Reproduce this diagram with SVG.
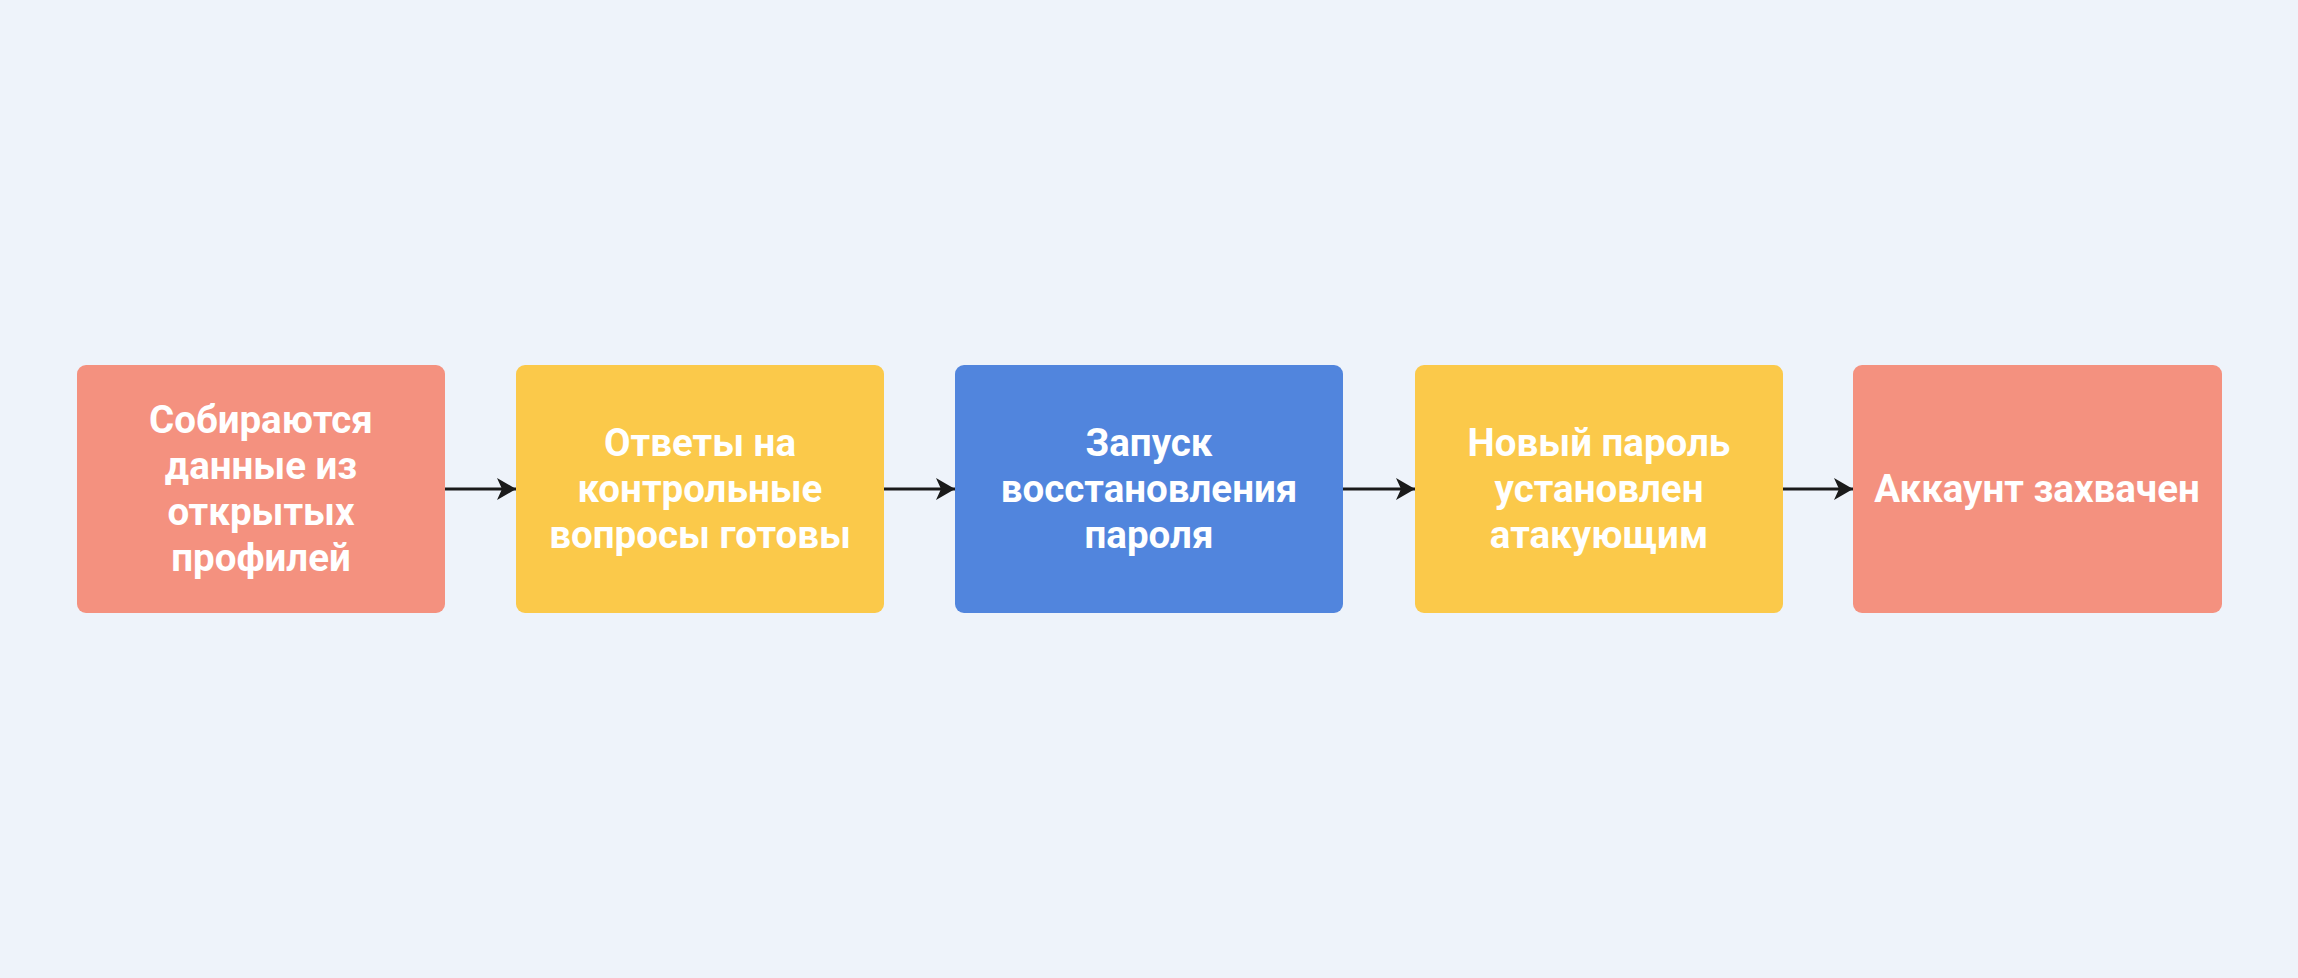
<svg xmlns="http://www.w3.org/2000/svg" width="2298" height="978" viewBox="0 0 2298 978">
<defs>
<marker id="ah" markerWidth="22" markerHeight="22" refX="19" refY="11" orient="auto" markerUnits="userSpaceOnUse">
<path d="M0,0 L19,11 L0,22 L5,11 Z" fill="#1a1a1a"/>
</marker>
</defs>
<style>
.bg{fill:#EEF3FA}
.n rect{rx:9px;ry:9px}
.salmon{fill:#F4917F}
.yellow{fill:#FBC94A}
.blue{fill:#5185DD}
.t{font-family:Roboto,"Liberation Sans",sans-serif;font-weight:700;font-size:38.5px;fill:#ffffff;text-anchor:middle}
.c{stroke:#1a1a1a;stroke-width:3.2;fill:none}
</style>
<rect class="bg" x="0" y="0" width="2298" height="978"/>
<g id="connectors">
<line class="c" x1="445" y1="489" x2="516" y2="489" marker-end="url(#ah)"/>
<line class="c" x1="884" y1="489" x2="955" y2="489" marker-end="url(#ah)"/>
<line class="c" x1="1343" y1="489" x2="1415" y2="489" marker-end="url(#ah)"/>
<line class="c" x1="1783" y1="489" x2="1853" y2="489" marker-end="url(#ah)"/>
</g>
<g id="n1" class="n">
<rect class="salmon" x="77" y="365" width="368" height="248"/>
<text class="t" x="261"><tspan x="261" y="433">Собираются</tspan><tspan x="261" y="479">данные из</tspan><tspan x="261" y="525">открытых</tspan><tspan x="261" y="571">профилей</tspan></text>
</g>
<g id="n2" class="n">
<rect class="yellow" x="516" y="365" width="368" height="248"/>
<text class="t" x="700"><tspan x="700" y="456">Ответы на</tspan><tspan x="700" y="502">контрольные</tspan><tspan x="700" y="548">вопросы готовы</tspan></text>
</g>
<g id="n3" class="n">
<rect class="blue" x="955" y="365" width="388" height="248"/>
<text class="t" x="1149"><tspan x="1149" y="456">Запуск</tspan><tspan x="1149" y="502">восстановления</tspan><tspan x="1149" y="548">пароля</tspan></text>
</g>
<g id="n4" class="n">
<rect class="yellow" x="1415" y="365" width="368" height="248"/>
<text class="t" x="1599"><tspan x="1599" y="456">Новый пароль</tspan><tspan x="1599" y="502">установлен</tspan><tspan x="1599" y="548">атакующим</tspan></text>
</g>
<g id="n5" class="n">
<rect class="salmon" x="1853" y="365" width="369" height="248"/>
<text class="t" x="2037" y="502">Аккаунт захвачен</text>
</g>
</svg>
